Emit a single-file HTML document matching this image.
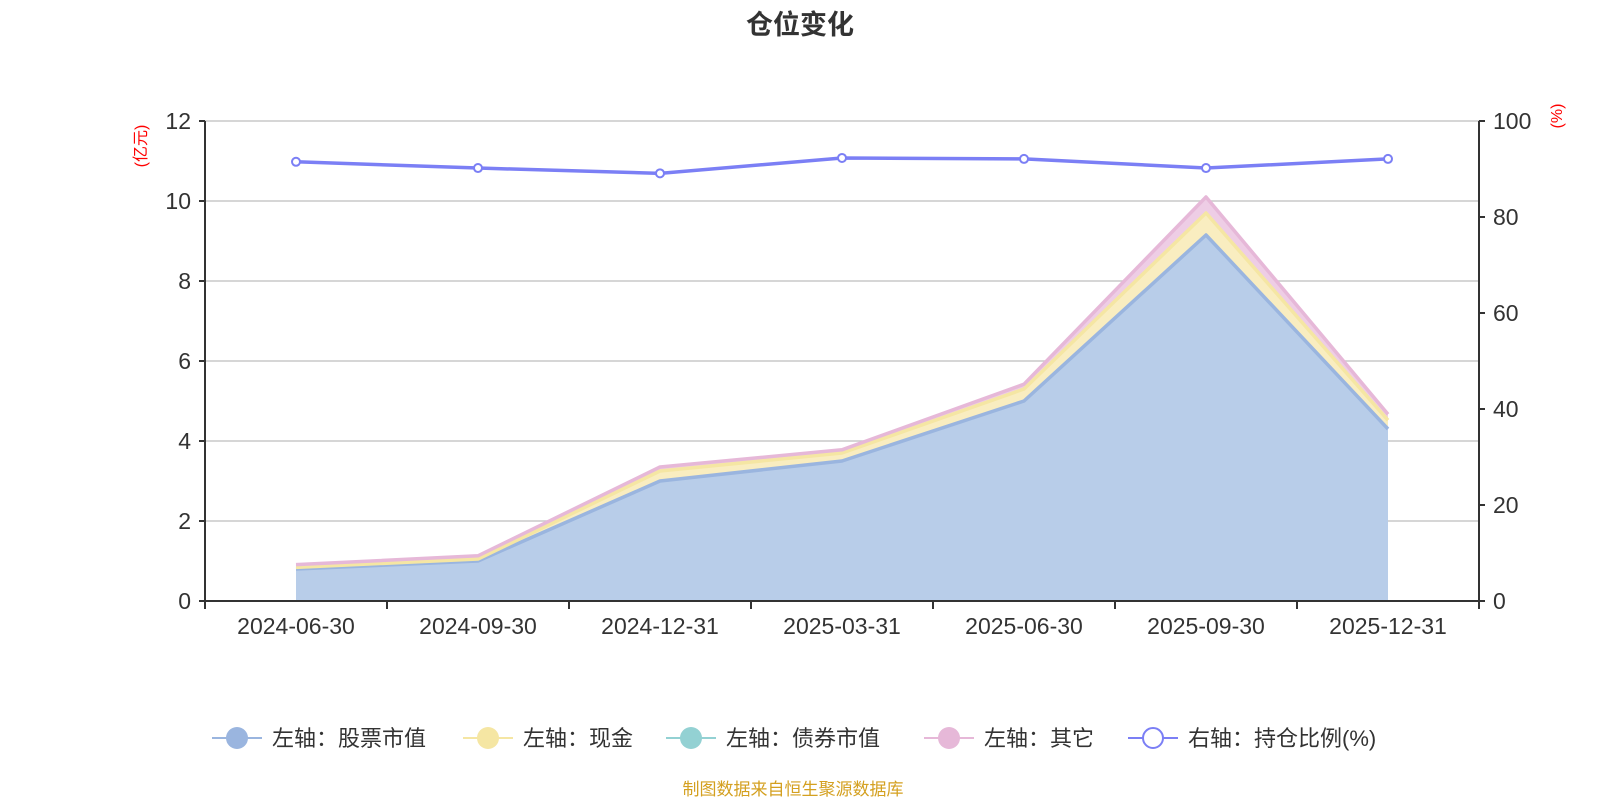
<!DOCTYPE html>
<html><head><meta charset="utf-8"><style>
body{margin:0;background:#fff;}
svg{display:block;font-family:"Liberation Sans","Noto Sans CJK SC",sans-serif;}
</style></head><body>
<svg id="chart" width="1600" height="800">
<text x="800" y="34" text-anchor="middle" font-size="27" font-weight="bold" fill="#333">仓位变化</text>
<text x="0" y="0" transform="translate(146,146) rotate(-90)" text-anchor="middle" font-size="16" fill="#f00">(亿元)</text>
<text x="0" y="0" transform="translate(1562,116) rotate(-90)" text-anchor="middle" font-size="16" fill="#f00">(%)</text>
<g id="grid"></g><g id="areas"></g><g id="lines"></g><g id="axes"></g><g id="line"></g>
<g id="legend" font-size="22" fill="#333">
<g><line x1="212" y1="738" x2="262" y2="738" stroke="#9ab5df" stroke-width="2"/><circle cx="237" cy="738" r="11" fill="#9ab5df"/><text x="272" y="746">左轴：股票市值</text></g>
<g><line x1="463" y1="738" x2="513" y2="738" stroke="#f5e6a3" stroke-width="2"/><circle cx="488" cy="738" r="11" fill="#f5e6a3"/><text x="523" y="746">左轴：现金</text></g>
<g><line x1="666" y1="738" x2="716" y2="738" stroke="#93d1d3" stroke-width="2"/><circle cx="691" cy="738" r="11" fill="#93d1d3"/><text x="726" y="746">左轴：债券市值</text></g>
<g><line x1="924" y1="738" x2="974" y2="738" stroke="#e6b8d8" stroke-width="2"/><circle cx="949" cy="738" r="11" fill="#e6b8d8"/><text x="984" y="746">左轴：其它</text></g>
<g><line x1="1128" y1="738" x2="1178" y2="738" stroke="#7b7ff5" stroke-width="2"/><circle cx="1153" cy="738" r="10" fill="#fff" stroke="#7b7ff5" stroke-width="2"/><text x="1188" y="746">右轴：持仓比例(%)</text></g>
</g>
<text x="793" y="795" text-anchor="middle" font-size="17" fill="#d4a020">制图数据来自恒生聚源数据库</text>
</svg>
<script>
const categories=["2024-06-30","2024-09-30","2024-12-31","2025-03-31","2025-06-30","2025-09-30","2025-12-31"];
const stockValues=[0.8,1.0,3.0,3.5,5.0,9.15,4.3];
const cashValues=[0.04,0.05,0.25,0.2,0.3,0.55,0.22];
const bondValues=[0,0,0,0,0,0,0];
const otherValues=[0.07,0.08,0.1,0.08,0.12,0.4,0.15];
const ratioValues=[91.5,90.2,89.1,92.3,92.1,90.2,92.1];
const leftTicks=[0,2,4,6,8,10,12];
const rightTicks=[0,20,40,60,80,100];
const NS="http://www.w3.org/2000/svg";
const L=205,R=1479,T=121,B=601;
const band=(R-L)/categories.length;
const xc=i=>L+band*(i+0.5);
const yL=v=>B-(v/12)*(B-T);
const yR=v=>B-(v/100)*(B-T);
function mk(tag,attrs,parent){const e=document.createElementNS(NS,tag);for(const k in attrs)e.setAttribute(k,attrs[k]);document.getElementById(parent).appendChild(e);return e;}
leftTicks.forEach(t=>{
 if(t>0){const g=mk('line',{x1:L,x2:R,y1:yL(t),y2:yL(t),stroke:'#c8c8c8','stroke-width':1.5},'grid');
 
 }
 const tk=mk('line',{x1:L-6,x2:L,y1:yL(t),y2:yL(t),stroke:'#333','stroke-width':2},'axes');
 
 
 const tx=mk('text',{x:L-14,y:yL(t)+8,'text-anchor':'end','font-size':23,fill:'#333'},'axes');tx.textContent=t;
 
 
});
rightTicks.forEach(t=>{
 const tk=mk('line',{x1:R,x2:R+6,y1:yR(t),y2:yR(t),stroke:'#333','stroke-width':2},'axes');
 
 
 const tx=mk('text',{x:R+14,y:yR(t)+8,'font-size':23,fill:'#333'},'axes');tx.textContent=t;
 
 
});
[[L,T,L,B+1],[R,T,R,B+1],[L-1,B,R+1,B]].forEach(a=>{const e=mk('line',{x1:a[0],y1:a[1],x2:a[2],y2:a[3],stroke:'#333','stroke-width':2},'axes');
 
 });
for(let i=0;i<=categories.length;i++){const e=mk('line',{x1:L+band*i,x2:L+band*i,y1:B,y2:B+8,stroke:'#333','stroke-width':2},'axes');
 
 }
categories.forEach((c,i)=>{const t=mk('text',{x:xc(i),y:B+33,'text-anchor':'middle','font-size':23,fill:'#333'},'axes');t.textContent=c;
 
 });
const series=[[stockValues,'#9ab5df','#b8cde9','area-stock'],[cashValues,'#f5e6a3','#f9edc0','area-cash'],[bondValues,'#93d1d3','#bfe3e4','area-bond'],[otherValues,'#e6b8d8','#eecde5','area-other']];
let base=categories.map(()=>0);
series.forEach(s=>{
 const top=base.map((b,i)=>b+s[0][i]);
 let d='';top.forEach((v,i)=>d+=(i?'L':'M')+xc(i)+','+yL(v));
 for(let i=base.length-1;i>=0;i--)d+='L'+xc(i)+','+yL(base[i]);
 const a=mk('path',{d:d+'Z',fill:s[2]},'areas');
 
 
 if(s[3]!=='area-bond'){
 let ld='';top.forEach((v,i)=>ld+=(i?'L':'M')+xc(i)+','+yL(v));
 const ln=mk('path',{d:ld,fill:'none',stroke:s[1],'stroke-width':3.5,'stroke-linejoin':'round'},'lines');
 
 
 }
 base=top;
});
let rd='';ratioValues.forEach((v,i)=>rd+=(i?'L':'M')+xc(i)+','+yR(v));
const rl=mk('path',{d:rd,fill:'none',stroke:'#7b7ff5','stroke-width':3.5},'line');


ratioValues.forEach((v,i)=>{const c=mk('circle',{cx:xc(i),cy:yR(v),r:4,fill:'#fff',stroke:'#7b7ff5','stroke-width':2},'line');
 
 });
</script>
</body></html>
